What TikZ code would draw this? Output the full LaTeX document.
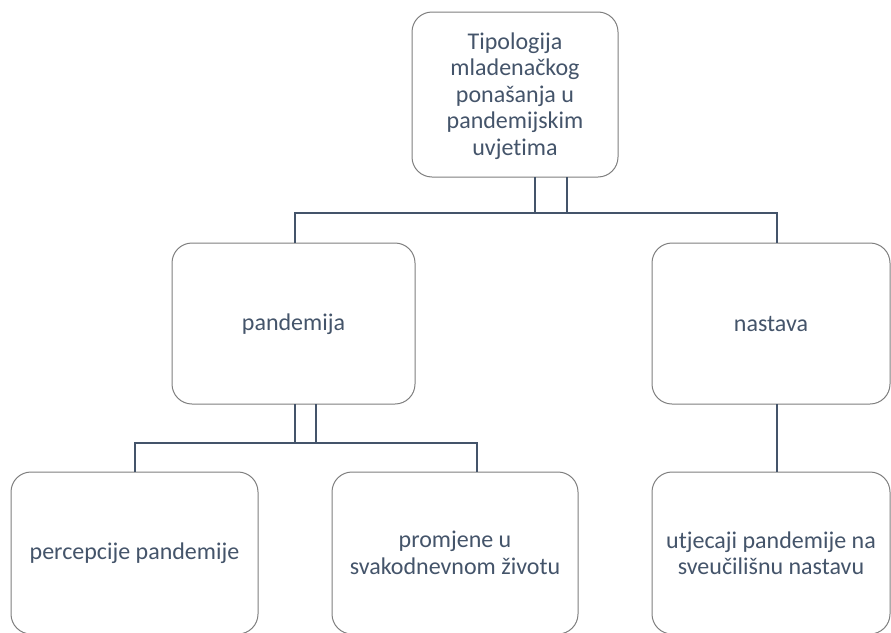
\documentclass[tikz,border=0pt]{standalone}
\usepackage{fontspec}
\setmainfont[Ligatures={NoCommon}]{Carlito}
\definecolor{txt}{HTML}{44546A}
\definecolor{bord}{HTML}{7F7F7F}
\begin{document}
\begin{tikzpicture}[x=1pt,y=-1pt,
  box/.style={draw=bord,line width=1pt,rounded corners=20pt,fill=white},
  lab/.style={text=txt,align=center,font=\fontsize{24}{26.5}\selectfont},
  conn/.style={draw=txt,line width=2.4pt}]
\useasboundingbox (0,0) rectangle (891,632);
% boxes
\draw[box] (412,12) rectangle (618,177);
\node[lab] (top) at (515,96) {Tipologija\\mladenačkog\\ponašanja u\\pandemijskim\\uvjetima};
\draw[box] (172,243) rectangle (415,404);
\node[lab] (pan) at (293.5,324) {pandemija};
\draw[box] (652,243) rectangle (890,404);
\node[lab] (nas) at (771,324) {nastava};
\draw[box] (11,472) rectangle (258,634);
\node[lab] (per) at (134.5,553) {percepcije pandemije};
\draw[box] (332,472) rectangle (578,634);
\node[lab] (pro) at (455,553) {promjene u\\svakodnevnom životu};
\draw[box] (652,472) rectangle (890,634);
\node[lab] (utj) at (771,553) {utjecaji pandemije na\\sveučilišnu nastavu};
% connectors
\coordinate (h1L) at (295,213);
\coordinate (h1R) at (777,213);
\draw[conn] (535,177) -- (535,213);
\draw[conn] (567,177) -- (567,213);
\draw[conn] (295,243) -- (h1L) -- (h1R) -- (777,243);
\draw[conn] (295,404) -- (295,443);
\draw[conn] (316,404) -- (316,443);
\draw[conn] (135,472) -- (135,443) -- (477,443) -- (477,472);
\draw[conn] (777,404) -- (777,472);
\end{tikzpicture}
\end{document}
